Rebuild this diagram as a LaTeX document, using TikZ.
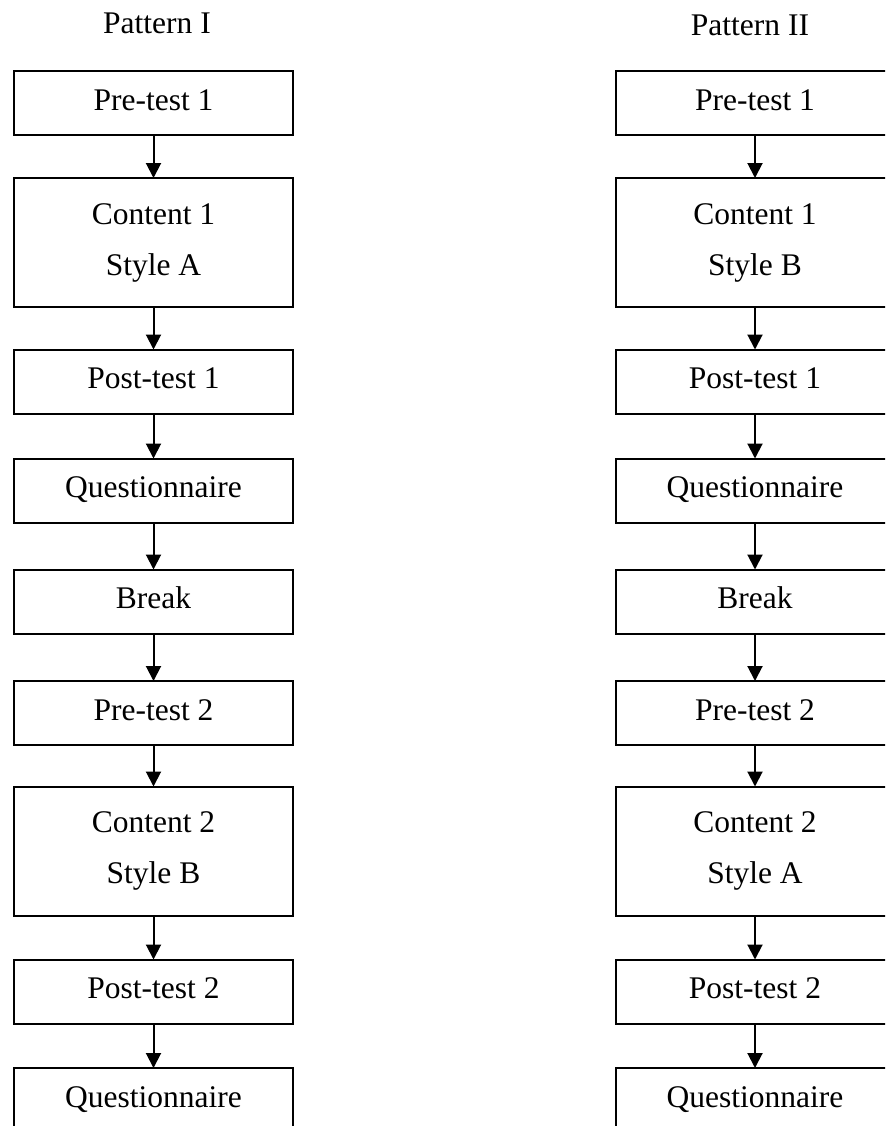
\documentclass[tikz,border=0pt]{standalone}
\usepackage{fontspec}
\setmainfont{Liberation Serif}
\usetikzlibrary{arrows.meta}
\begin{document}
\begin{tikzpicture}[x=0.5pt,y=-0.5pt,
  font=\fontsize{15.75}{27.5}\selectfont,
  stage/.style={draw=black,line width=1pt,rectangle,inner sep=0pt,outer sep=0pt,
    minimum width=139.5pt,minimum height=32pt,align=center,
    text height=0.7em,text depth=0pt},
  tallstage/.style={stage,minimum height=64.5pt,text height=,text depth=},
  title/.style={anchor=base,inner sep=0pt},
  flow/.style={line width=1pt,-{Triangle[width=7.5pt,length=7.5pt]}}]
\path[use as bounding box,clip] (0,0) rectangle (885,1126);

% column titles
\node[title] (tl) at (157,33) {Pattern I};
\node[title] (tr) at (750,35) {Pattern II};

% left sequence
\node[stage]     (l1) at (153.5,103)   {Pre-test 1};
\node[tallstage] (l2) at (153.5,242.5) {Content 1\\[-2pt]Style A};
\node[stage]     (l3) at (153.5,381.5) {Post-test 1};
\node[stage]     (l4) at (153.5,490.5) {Questionnaire};
\node[stage]     (l5) at (153.5,601.5) {Break};
\node[stage]     (l6) at (153.5,713)   {Pre-test 2};
\node[tallstage] (l7) at (153.5,851)   {Content 2\\[-2pt]Style B};
\node[stage]     (l8) at (153.5,991.5) {Post-test 2};
\node[stage]     (l9) at (153.5,1100)  {Questionnaire};

% right sequence
\node[stage]     (r1) at (755,103)   {Pre-test 1};
\node[tallstage] (r2) at (755,242.5) {Content 1\\[-2pt]Style B};
\node[stage]     (r3) at (755,381.5) {Post-test 1};
\node[stage]     (r4) at (755,490.5) {Questionnaire};
\node[stage]     (r5) at (755,601.5) {Break};
\node[stage]     (r6) at (755,713)   {Pre-test 2};
\node[tallstage] (r7) at (755,851)   {Content 2\\[-2pt]Style A};
\node[stage]     (r8) at (755,991.5) {Post-test 2};
\node[stage]     (r9) at (755,1100)  {Questionnaire};

% connectors
\foreach \a/\b in {1/2,2/3,3/4,4/5,5/6,6/7,7/8,8/9}{
  \draw[flow] (l\a.south) -- (l\b.north);
  \draw[flow] (r\a.south) -- (r\b.north);
}
\end{tikzpicture}
\end{document}
